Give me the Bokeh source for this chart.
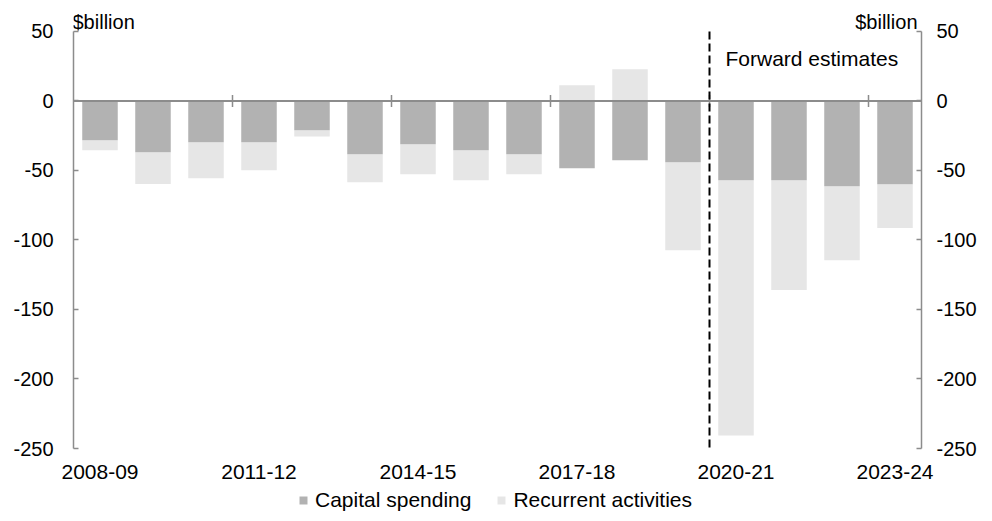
from math import pi
from bokeh.plotting import figure
from bokeh.layouts import column
from bokeh.models import (ColumnDataSource, LinearAxis, FixedTicker, Span, Label,
                          Legend, LegendItem, Range1d)
from bokeh.embed import file_html
from bokeh.resources import INLINE

# ---- data ($billion) ----
years = ["2008-09", "2009-10", "2010-11", "2011-12", "2012-13", "2013-14", "2014-15",
         "2015-16", "2016-17", "2017-18", "2018-19", "2019-20", "2020-21", "2021-22",
         "2022-23", "2023-24"]
capital = [-28.3, -36.9, -29.7, -29.7, -21.1, -38.3, -31.2, -35.5, -38.3, -48.4,
           -42.7, -44.1, -57.0, -57.0, -61.4, -59.9]
recurrent = [-7.2, -22.8, -25.9, -20.1, -4.5, -20.2, -21.5, -21.5, -14.4, 11.3,
             22.8, -63.3, -183.7, -79.0, -53.2, -31.5]
y_ticks = [-250, -200, -150, -100, -50, 0, 50]
label_every = 3
forecast_start = "2020-21"
series_names = ["Capital spending", "Recurrent activities"]

FONT = "Liberation Sans"
GREY_AX = "#8C8C8C"
C_CAP = "#B2B2B2"
C_REC = "#E6E6E6"

n = len(years)
xc = [i + 0.5 for i in range(n)]
rec_bottom = [c if r < 0 else 0 for c, r in zip(capital, recurrent)]
rec_top = [c + r if r < 0 else r for c, r in zip(capital, recurrent)]
y_lo, y_hi = min(y_ticks), max(y_ticks)
head_room = 22.3  # space above the top tick for the unit labels

src = ColumnDataSource(dict(x=xc, year=years, cap=capital, zero=[0] * n,
                            rb=rec_bottom, rt=rec_top))

p = figure(frame_width=848, frame_height=448, output_backend="svg",
           toolbar_location=None,
           x_range=Range1d(0, n), y_range=Range1d(y_lo, y_hi + head_room),
           min_border_left=73, min_border_right=0, min_border_top=0,
           min_border_bottom=0)
p.outline_line_color = None
p.xgrid.visible = False
p.ygrid.visible = False
p.background_fill_color = "white"
p.border_fill_color = "white"

r_rec = p.vbar(x="x", bottom="rb", top="rt", width=0.67, source=src,
               fill_color=C_REC, line_color=None)
r_cap = p.vbar(x="x", bottom="zero", top="cap", width=0.67, source=src,
               fill_color=C_CAP, line_color=None)

# zero line and category tick marks crossing it
p.add_layout(Span(location=0, dimension="width", line_color=GREY_AX, line_width=2))
bounds = [i for i in range(label_every, n, label_every)]
p.scatter(x=bounds, y=[0] * len(bounds), marker="dash", angle=pi / 2, size=12,
          line_color=GREY_AX, line_width=1.5)

# forecast divider
fs_idx = years.index(forecast_start)
p.segment(x0=[fs_idx], y0=[y_hi], x1=[fs_idx], y1=[y_lo], line_color="black",
          line_width=2, line_dash="8 4")

# axes
xa = p.xaxis[0]
xa.ticker = FixedTicker(ticks=[xc[i] for i in range(0, n, label_every)])
xa.major_label_overrides = {xc[i]: years[i] for i in range(0, n, label_every)}
xa.axis_line_color = None
xa.major_tick_line_color = None
xa.major_tick_in = 0
xa.major_tick_out = 0
xa.minor_tick_line_color = None
xa.minor_tick_in = 0
xa.minor_tick_out = 0
xa.major_label_standoff = 16
xa.major_label_text_font = FONT
xa.major_label_text_font_size = "21px"
xa.major_label_text_color = "black"

ya = p.yaxis[0]
ra = LinearAxis()
p.add_layout(ra, "right")
for ax, so in ((ya, 20), (ra, 15)):
    ax.ticker = FixedTicker(ticks=y_ticks)
    ax.bounds = (y_lo, y_hi)
    ax.major_label_overrides = {t: str(t) for t in y_ticks}
    ax.axis_line_color = GREY_AX
    ax.axis_line_width = 1.5
    ax.major_tick_line_color = GREY_AX
    ax.major_tick_line_width = 1.5
    ax.major_tick_in = 5
    ax.major_tick_out = 0
    ax.minor_tick_line_color = None
    ax.major_label_standoff = so
    ax.major_label_text_font = FONT
    ax.major_label_text_font_size = "20px"
    ax.major_label_text_color = "black"

# texts
p.add_layout(Label(x=0, y=y_hi, text="$billion", x_offset=-1, y_offset=9,
                   text_font=FONT, text_font_size="20px", text_color="black",
                   text_baseline="alphabetic", text_align="left"))
p.add_layout(Label(x=n, y=y_hi, text="$billion", x_offset=-4, y_offset=9,
                   text_font=FONT, text_font_size="20px", text_color="black",
                   text_baseline="alphabetic", text_align="right"))
p.add_layout(Label(x=fs_idx, y=y_hi, text="Forward estimates", x_offset=16,
                   y_offset=-27, text_font=FONT, text_font_size="21px",
                   text_color="black", text_baseline="alphabetic", text_align="left"))

# ---- legend strip (separate small figure below the chart) ----
q = figure(width=976, height=31, output_backend="svg", toolbar_location=None,
           x_axis_location=None, y_axis_location=None, min_border=0,
           x_range=Range1d(0, n), y_range=Range1d(1000, 1001))
q.outline_line_color = None
q.xgrid.visible = False
q.ygrid.visible = False
q.background_fill_color = "white"
q.border_fill_color = "white"
# same bars, drawn outside this strip's range: they only feed the legend swatches
lc = q.vbar(x="x", bottom="zero", top="cap", width=0.67, source=src,
            fill_color=C_CAP, line_color=None)
lr = q.vbar(x="x", bottom="rb", top="rt", width=0.67, source=src,
            fill_color=C_REC, line_color=None)
legend = Legend(items=[LegendItem(label=series_names[0], renderers=[lc]),
                       LegendItem(label=series_names[1], renderers=[lr])],
                orientation="horizontal", location=(225, 0))
legend.border_line_color = None
legend.background_fill_alpha = 0
legend.label_text_font = FONT
legend.label_text_font_size = "21px"
legend.label_text_color = "black"
legend.label_height = 12
legend.glyph_width = 10
legend.glyph_height = 10
legend.label_standoff = 7
legend.spacing = 25
legend.padding = 0
legend.margin = 0
q.add_layout(legend, "center")

layout = column(p, q, spacing=0)
open("out.html", "w").write(file_html(layout, INLINE))
